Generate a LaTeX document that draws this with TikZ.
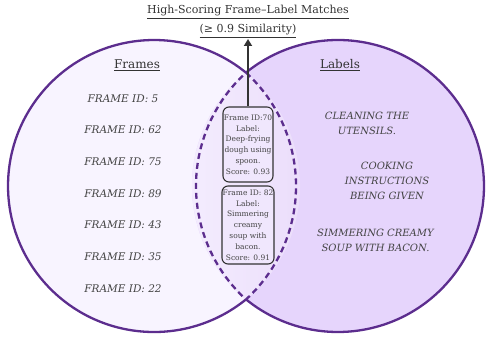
\documentclass[tikz,border=0pt]{standalone}
\usepackage{fontspec}
\setmainfont{DejaVu Serif}
\usetikzlibrary{arrows.meta}
\definecolor{ring}{HTML}{5C2D8E}
\definecolor{leftfill}{HTML}{F8F4FF}
\definecolor{rightfill}{HTML}{E6D5FC}
\definecolor{lensl}{HTML}{F4EDFE}
\definecolor{lensr}{HTML}{EBDDFB}
\definecolor{boxfill}{HTML}{F0E7FD}
\definecolor{txt}{HTML}{444444}
\definecolor{dark}{HTML}{333333}
\tikzset{
  fid/.style={font=\fontsize{10.5}{13}\selectfont\itshape, text=txt, inner sep=0pt},
  lab/.style={font=\fontsize{10}{15}\selectfont\itshape, text=txt, align=center, inner sep=0pt},
  head/.style={font=\fontsize{12}{14}\selectfont, text=dark, inner sep=0pt},
  ttl/.style={font=\fontsize{11}{13}\selectfont, text=dark, inner sep=0pt},
  matchbox/.style={draw=dark, line width=1.1pt, rounded corners=6pt, fill=boxfill,
    text=txt, align=center, inner sep=0pt, font=\fontsize{7.5}{10.8}\selectfont},
  ringline/.style={draw=ring, line width=2.3pt},
  lensline/.style={draw=ring, line width=2.3pt, dash pattern=on 6pt off 4pt}
}
\begin{document}
\begin{tikzpicture}[x=1pt,y=1pt]
\useasboundingbox (0,0) rectangle (486,338);
\coordinate (L) at (154,152);
\coordinate (R) at (338,152);
\coordinate (T) at (246,265.37);
\coordinate (B) at (246,38.63);
% fills
\fill[leftfill] (L) circle[radius=146pt];
\fill[rightfill] (R) circle[radius=146pt];
\shade[left color=lensl, right color=lensr]
  (T) arc[start angle=50.95, end angle=-50.95, radius=146pt]
      arc[start angle=230.95, end angle=129.05, radius=146pt] -- cycle;
% outer arcs
\draw[ringline] (T) arc[start angle=50.95, end angle=309.05, radius=146pt];
\draw[ringline] (B) arc[start angle=-129.05, end angle=129.05, radius=146pt];
% lens dashed
\draw[lensline]
  (T) arc[start angle=47.6, end angle=-47.6, radius=153.6pt]
      arc[start angle=227.6, end angle=132.4, radius=153.6pt];
% title
\node[ttl] (t1) at (248,326) {\underline{High-Scoring Frame–Label Matches}};
\node[ttl] (t2) at (248,307) {\underline{(≥ 0.9 Similarity)}};
% headings
\node[head] (hf) at (137,273) {\underline{Frames}};
\node[head] (hl) at (340,273) {\underline{Labels}};
% frame ids
\node[fid] (f1) at (123,239) {FRAME ID: 5};
\node[fid] (f2) at (123,208) {FRAME ID: 62};
\node[fid] (f3) at (123,176) {FRAME ID: 75};
\node[fid] (f4) at (123,144) {FRAME ID: 89};
\node[fid] (f5) at (123,113) {FRAME ID: 43};
\node[fid] (f6) at (123,81) {FRAME ID: 35};
\node[fid] (f7) at (123,49) {FRAME ID: 22};
% labels
\node[lab] (l1) at (367,215) {CLEANING THE\\UTENSILS.};
\node[lab] (l2) at (387,157) {COOKING\\INSTRUCTIONS\\BEING GIVEN};
\node[lab] (l3) at (375.5,98) {SIMMERING CREAMY\\SOUP WITH BACON.};
% match boxes
\node[matchbox, minimum width=50pt, minimum height=75pt] (b1) at (248,193.5)
  {Frame ID:70\\Label:\\Deep-frying\\dough using\\spoon.\\Score: 0.93};
\node[matchbox, minimum width=52pt, minimum height=78pt] (b2) at (248,113)
  {Frame ID: 82\\Label:\\Simmering\\creamy\\soup with\\bacon.\\Score: 0.91};
\coordinate (tip) at (248,299);
\draw[dark, line width=2pt, -{Triangle[width=8pt,length=7pt]}] (b1.north) -- (tip);
\end{tikzpicture}
\end{document}
